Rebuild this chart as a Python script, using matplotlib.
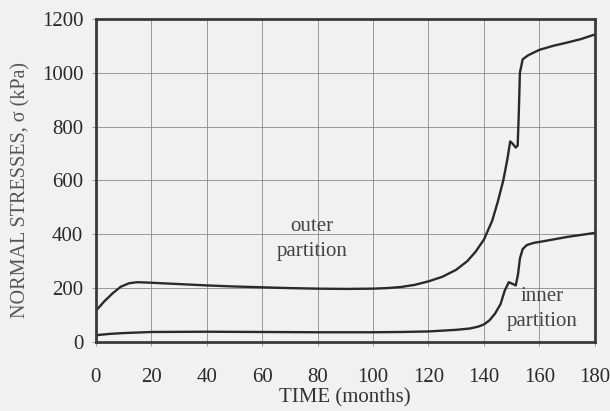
import numpy as np
import matplotlib.pyplot as plt

plt.rcParams['font.family'] = ['Liberation Serif', 'DejaVu Serif']

# outer partition
outer_t = [0, 3, 6, 9, 12, 15, 20, 30, 40, 50, 60, 70, 80, 90, 100, 105, 110,
           115, 120, 125, 130, 134, 137, 140, 143, 145, 147, 148.5, 149.5,
           150.5, 151.5, 152.2, 152.6, 153, 154, 156, 160, 165, 170, 175, 180]
outer_s = [115, 150, 180, 205, 218, 222, 220, 215, 210, 206, 203, 200, 198,
           197, 198, 200, 204, 212, 225, 242, 268, 300, 335, 380, 450, 520,
           600, 680, 745, 735, 722, 730, 850, 1000, 1050, 1065, 1085, 1100,
           1112, 1125, 1142]

# inner partition
inner_t = [0, 5, 10, 20, 40, 60, 80, 100, 110, 120, 130, 135, 138, 140, 142,
           144, 146, 147.5, 149, 150.5, 151.5, 152.3, 153, 154, 155.5, 158,
           162, 170, 180]
inner_s = [25, 30, 33, 37, 38, 37, 36, 36, 37, 39, 45, 50, 57, 65, 80, 105,
           140, 190, 222, 215, 210, 250, 310, 345, 360, 368, 375, 390, 405]

xticks = np.arange(0, 181, 20)
yticks = np.arange(0, 1201, 200)

bg = '#f1f1f1'
fig = plt.figure(figsize=(6.10, 4.11), dpi=100, facecolor=bg)
ax = fig.add_axes([0.157, 0.168, 0.818, 0.786], facecolor=bg)

ax.plot(outer_t, outer_s, color='#2a2a2a', lw=1.7)
ax.plot(inner_t, inner_s, color='#2a2a2a', lw=1.7)

ax.set_xlim(0, 180)
ax.set_ylim(0, 1200)
ax.set_xticks(xticks)
ax.set_yticks(yticks)
ax.grid(True, color='#8a8a8a', lw=0.6)
ax.tick_params(length=3, width=0.6, color='#8a8a8a', labelsize=15,
               labelcolor='#2a2a2a')
ax.tick_params(axis='x', pad=16)
ax.tick_params(axis='y', pad=6)
for sp in ax.spines.values():
    sp.set_linewidth(2)
    sp.set_color('#3a3a3a')

ax.set_xlabel("TIME (months)", fontsize=15, color='#333333', labelpad=1)
ax.set_ylabel("NORMAL STRESSES, σ (kPa)", fontsize=14.5, color='#555555')
ax.yaxis.set_label_coords(-0.13, 0.47)

ax.text(78, 383, "outer\npartition", ha='center', va='center',
        fontsize=15, color='#444444', linespacing=1.4)
ax.text(161, 123, "inner\npartition", ha='center', va='center',
        fontsize=15, color='#444444', linespacing=1.4)

fig.savefig("out.png", dpi=100, facecolor=bg)
